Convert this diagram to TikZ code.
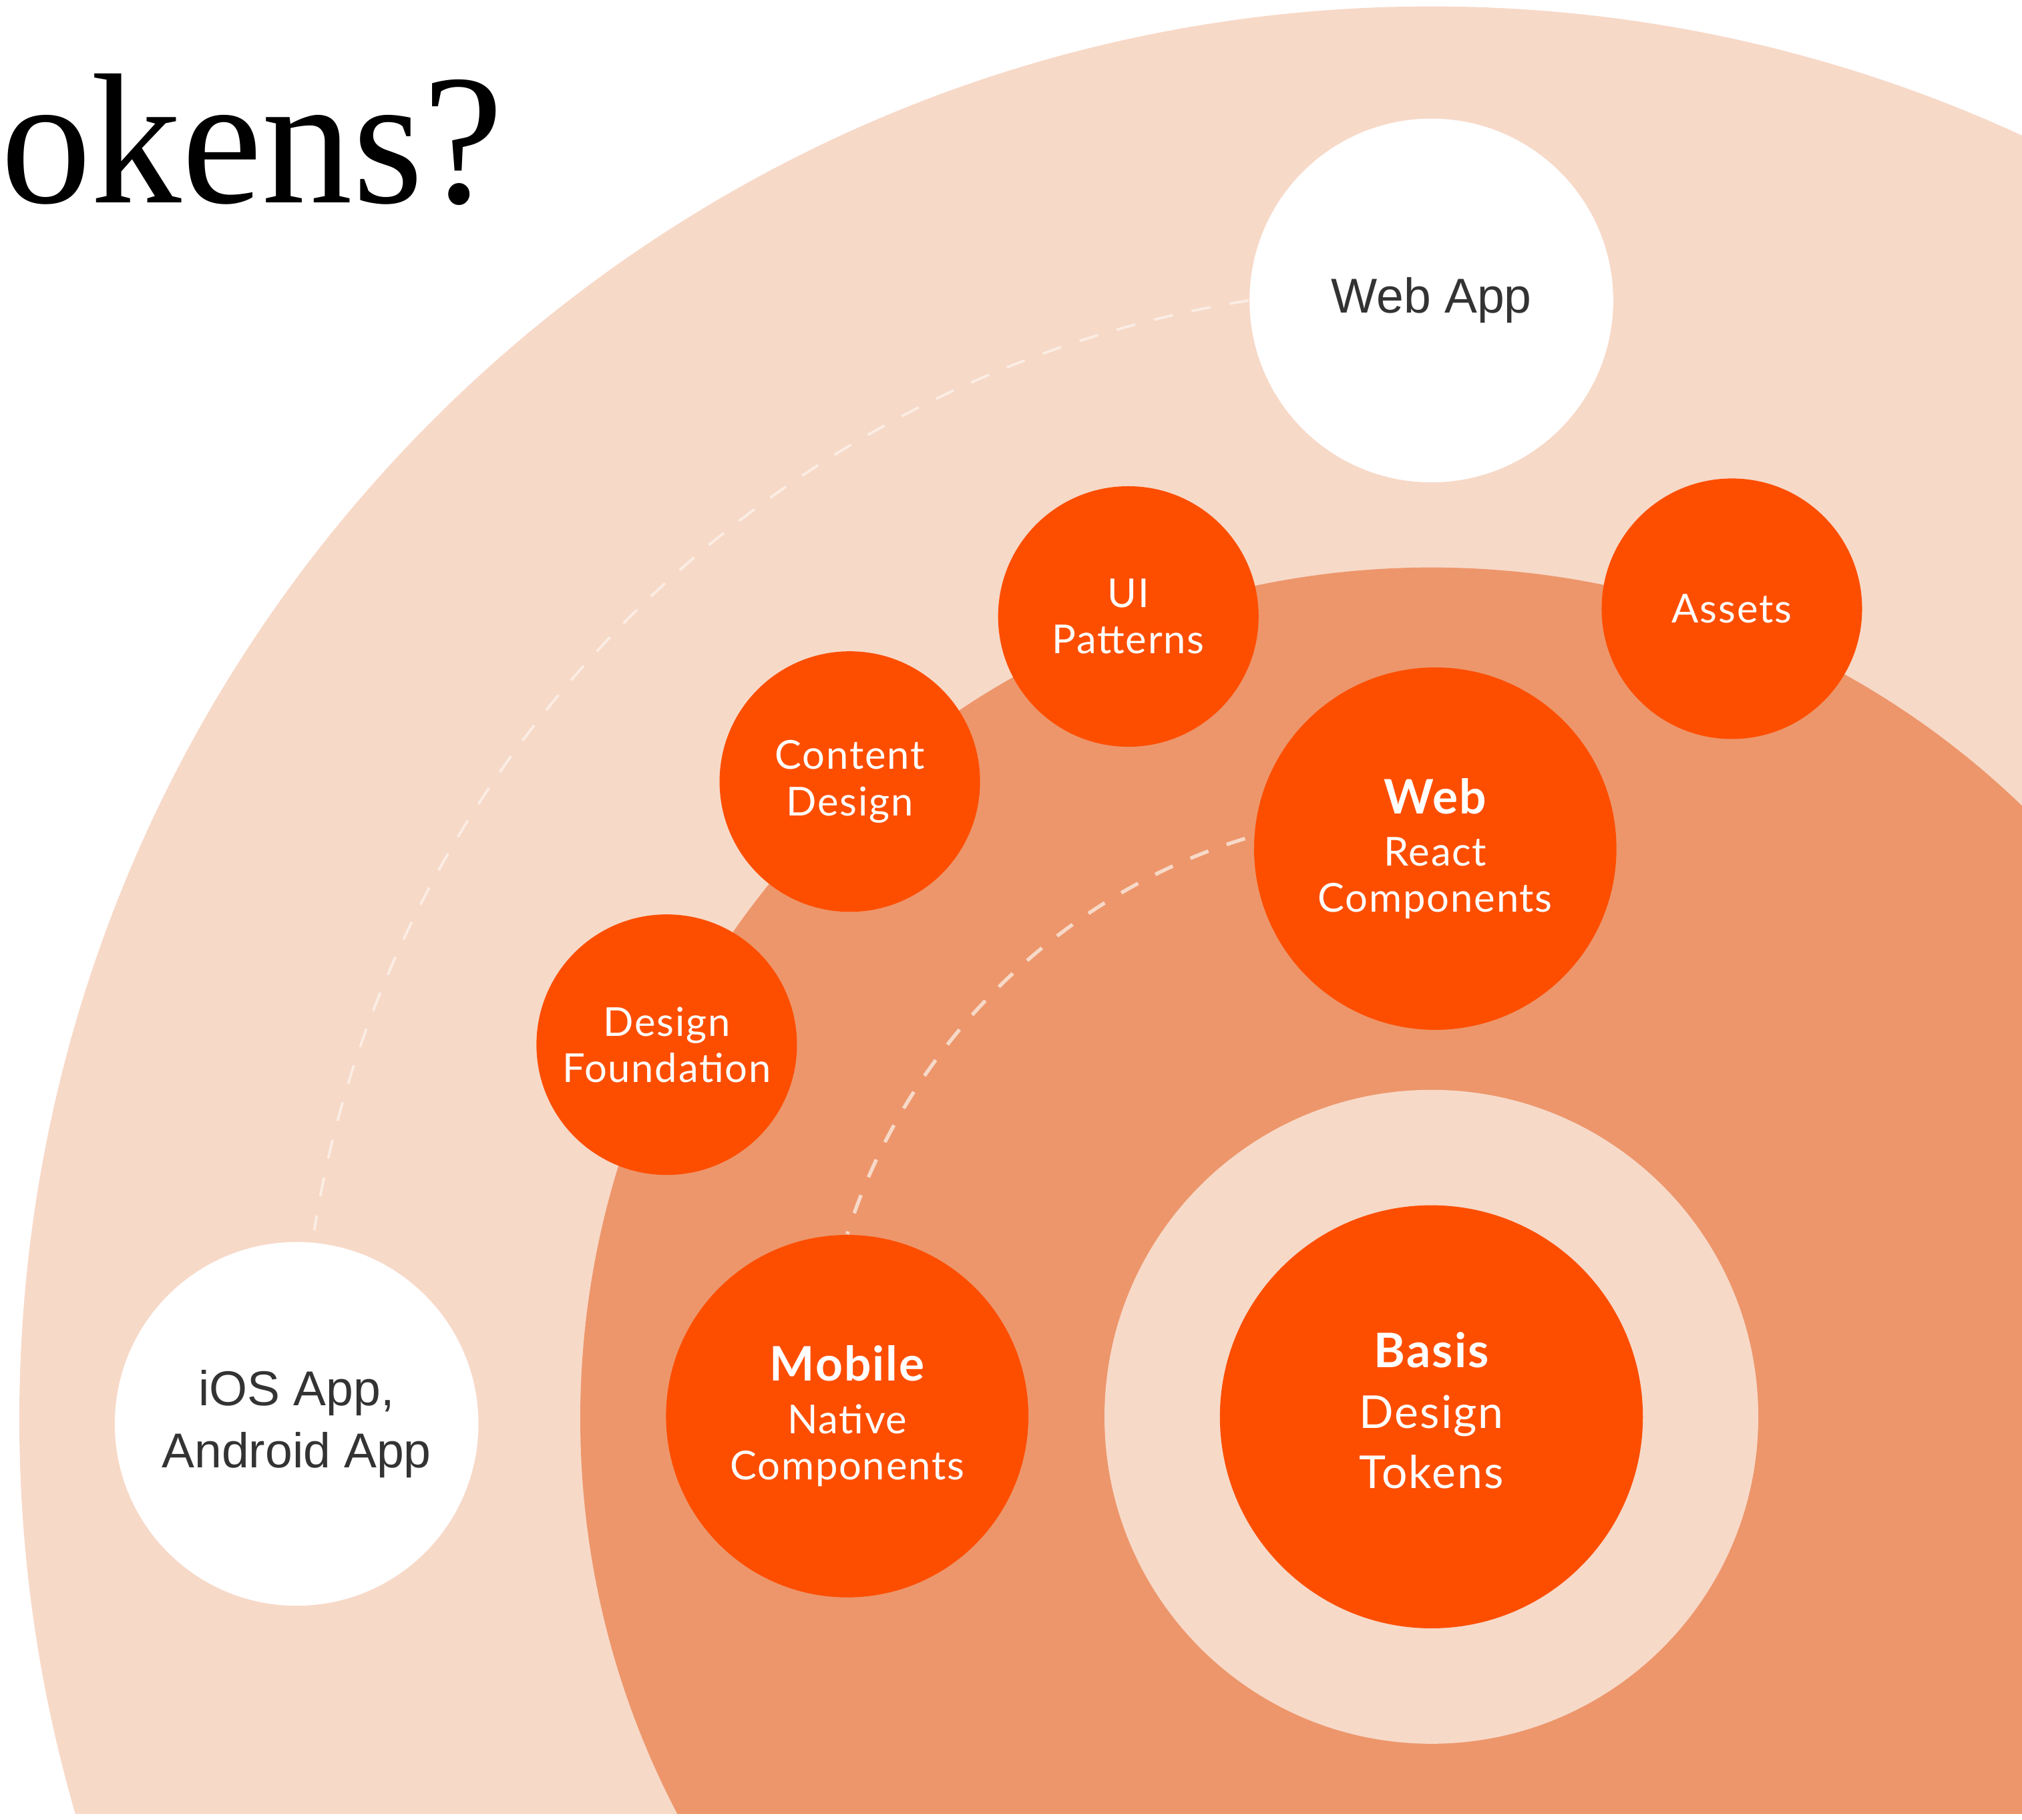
\documentclass[tikz,border=0pt]{standalone}
\usepackage{fontspec}
\setmainfont{Liberation Serif}
\newfontfamily\labelfont[LetterSpace=3]{Lato}
\newfontfamily\appfont{Liberation Sans}
\newfontfamily\titlefont[FakeStretch=0.974]{Liberation Serif}
\definecolor{peach}{HTML}{F7D9C8}
\definecolor{salmon}{HTML}{ED966B}
\definecolor{basisorange}{HTML}{FD4E00}
\definecolor{dashpale}{HTML}{FBEDE4}
\definecolor{appgray}{HTML}{333333}
\begin{document}
\begin{tikzpicture}[x=0.1mm,y=0.1mm,
	appnode/.style={circle,fill=white,inner sep=0pt,minimum size=28.2mm,align=center,
		text=appgray,font=\appfont\fontsize{10.8}{13.6}\selectfont},
	bubble/.style={circle,fill=basisorange,inner sep=0pt,minimum size=20.2mm,align=center,
		text=white,font=\labelfont\fontsize{8.8}{10.2}\selectfont},
	bigbubble/.style={bubble,minimum size=28.1mm},
	orbit/.style={dash pattern=on 1.5mm off 1.5mm,line width=0.2mm}]
	%边界和背景圆
	\useasboundingbox (0,0) rectangle (1568,1411);
	\begin{scope}
		\clip (0,5) rectangle (1568,1411);
		\fill[peach] (1110,311) circle[radius=1095];
		\fill[salmon] (1110,311) circle[radius=660];
	\end{scope}
	%标题
	\node[anchor=base west,inner sep=0pt,font=\titlefont\fontsize{41}{41}\selectfont]
	(title) at (0,1254) {okens?};
	%中心
	\node[circle,fill=peach,inner sep=0pt,minimum size=50.7mm] (ring) at (1110,312.5) {};
	\node[bubble,minimum size=32.8mm,font=\labelfont\fontsize{10}{13.3}\selectfont]
	(basis) at (1110,312.5) {{\fontsize{10.5}{13.3}\bfseries Basis}\\Design\\Tokens\\[-10.5pt]};
	%应用
	\node[appnode] (webapp) at (1110,1178) {Web App};
	\node[appnode] (ios) at (230,307) {iOS App,\\Android App};
	%组件
	\node[bigbubble] (mobile) at (657,313)
	{{\fontsize{10.5}{12}\bfseries Mobile}\\[1.4pt]Native\\Components};
	\node[bigbubble] (webreact) at (1113,753)
	{{\fontsize{10.5}{12}\bfseries Web}\\[1.4pt]React\\Components};
	\node[bubble] (assets) at (1343,939) {Assets};
	\node[bubble] (uipat) at (875,933) {UI\\Patterns};
	\node[bubble] (content) at (659,805) {Content\\Design};
	\node[bubble] (foundation) at (517,601) {Design\\Foundation};
	%虚线
	\draw[orbit,dashpale,shorten >=0.9mm] (webapp.west)
	to[out=189,in=81,looseness=0.94] (ios.85);
	\draw[orbit,peach,line width=0.28mm,shorten <=0.7mm] (webreact.176)
	to[out=197,in=72.5,looseness=0.9] (mobile.north);
\end{tikzpicture}
\end{document}
